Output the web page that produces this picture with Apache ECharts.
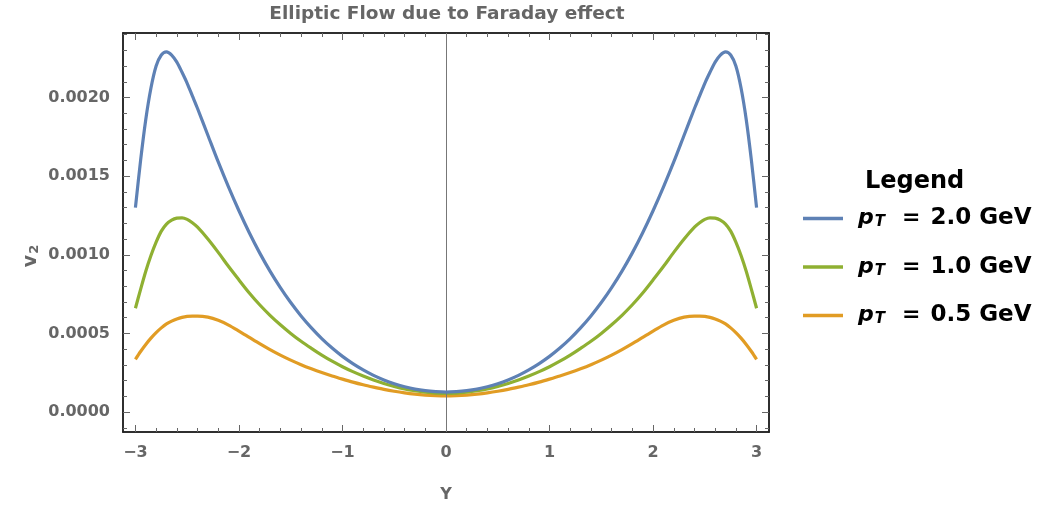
<!DOCTYPE html>
<html>
<head>
<meta charset="utf-8">
<script src="https://cdn.jsdelivr.net/npm/echarts@6/dist/echarts.min.js"></script>
<style>
html,body{margin:0;padding:0;background:#fff;}
#chart{width:1062px;height:508px;}
</style>
</head>
<body>
<div id="chart"></div>
<script>
// ---- data ----
const rapidity = [-3,-2.95,-2.9,-2.85,-2.8,-2.75,-2.7,-2.65,-2.6,-2.55,-2.5,-2.45,
  -2.4,-2.3,-2.2,-2.1,-2,-1.9,-1.8,-1.7,-1.6,-1.5,-1.4,-1.3,-1.2,-1.1,-1,-0.9,-0.8,-0.7,-0.6,-0.5,-0.4,-0.3,-0.2,-0.1,
  0,
  0.1,0.2,0.3,0.4,0.5,0.6,0.7,0.8,0.9,1,1.1,1.2,1.3,1.4,1.5,1.6,1.7,1.8,1.9,2,2.1,2.2,2.3,2.4,
  2.45,2.5,2.55,2.6,2.65,2.7,2.75,2.8,2.85,2.9,2.95,3];

const v2_pT20 = [0.0013,0.0016,0.00186,0.00206,0.00220,0.00227,0.00229,0.00227,0.002225,0.00216,0.00209,0.00201,
  0.00193,0.00176,0.00159,0.00143,0.00128,0.00114,0.001012,0.000896,0.000791,0.000696,0.000611,0.000535,0.000467,0.000407,0.000354,0.000308,0.000268,0.000233,0.000204,0.00018,0.000161,0.000146,0.000136,0.00013,
  0.000127,
  0.00013,0.000136,0.000146,0.000161,0.00018,0.000204,0.000233,0.000268,0.000308,0.000354,0.000407,0.000467,0.000535,0.000611,0.000696,0.000791,0.000896,0.001012,0.00114,0.00128,0.00143,0.00159,0.00176,0.00193,
  0.00201,0.00209,0.00216,0.002225,0.00227,0.00229,0.00227,0.00220,0.00206,0.00186,0.0016,0.0013];

const v2_pT10 = [0.00066,0.00078,0.000895,0.000995,0.00108,0.00115,0.001195,0.00122,0.001233,0.001235,0.001225,0.001203,
  0.001175,0.0011,0.001015,0.000925,0.00084,0.000757,0.000682,0.000615,0.000555,0.0005,0.00045,0.000405,0.000362,0.000323,0.000288,0.000257,0.000229,0.000204,0.000182,0.000163,0.000147,0.000135,0.000126,0.00012,
  0.000118,
  0.00012,0.000126,0.000135,0.000147,0.000163,0.000182,0.000204,0.000229,0.000257,0.000288,0.000323,0.000362,0.000405,0.00045,0.0005,0.000555,0.000615,0.000682,0.000757,0.00084,0.000925,0.001015,0.0011,0.001175,
  0.001203,0.001225,0.001235,0.001233,0.00122,0.001195,0.00115,0.00108,0.000995,0.000895,0.00078,0.00066];

const v2_pT05 = [0.000335,0.000385,0.00043,0.00047,0.000505,0.000535,0.00056,0.000578,0.000592,0.000602,0.000608,0.00061,
  0.00061,0.000603,0.000583,0.000553,0.000515,0.000475,0.000435,0.000397,0.000362,0.00033,0.000301,0.000275,0.000251,0.000229,0.000209,0.00019,0.000173,0.000158,0.000144,0.000132,0.000122,0.000114,0.000108,0.000104,
  0.000102,
  0.000104,0.000108,0.000114,0.000122,0.000132,0.000144,0.000158,0.000173,0.00019,0.000209,0.000229,0.000251,0.000275,0.000301,0.00033,0.000362,0.000397,0.000435,0.000475,0.000515,0.000553,0.000583,0.000603,0.00061,
  0.00061,0.000608,0.000602,0.000592,0.000578,0.00056,0.000535,0.000505,0.00047,0.00043,0.000385,0.000335];

const seriesNames = ['pT20', 'pT10', 'pT05'];
const legendLabels = ['2.0', '1.0', '0.5'];
const xMajorTicks = [-3,-2,-1,0,1,2,3];
const yMajorTicks = [0,0.0005,0.001,0.0015,0.002];
const titleText = 'Elliptic Flow due to Faraday effect';
const xName = 'Y';

// ---- build ----
const xMinorTicks = [];
for (let i = -15; i <= 15; i++) xMinorTicks.push(+(i*0.2).toFixed(2));
const yMinorTicks = [];
for (let i = -1; i <= 24; i++) yMinorTicks.push(+(i*0.0001).toFixed(5));

const X_MIN = -3.12, X_MAX = 3.12, Y_MIN = -0.000127, Y_MAX = 0.002410;
const FONT = 'DejaVu Sans';
const GRAY = '#666666';
const FRAME = '#222222';
const colors = ['#5E81B5', '#8FB032', '#E19C24'];
const values = [v2_pT20, v2_pT10, v2_pT05];

function mkX(pos, major, labels) {
  return {
    type: 'value', position: pos, min: X_MIN, max: X_MAX,
    axisLine: {show: true, onZero: false, lineStyle: {color: FRAME, width: 1.5}},
    axisTick: {show: true, inside: true, length: major ? 7 : 4, customValues: major ? xMajorTicks : xMinorTicks,
      lineStyle: {color: GRAY, width: 1}},
    axisLabel: labels ? {show: true, customValues: xMajorTicks, margin: 13,
      fontFamily: FONT, fontWeight: 'bold', fontSize: 16, color: GRAY,
      formatter: v => String(v).replace('-', '\u2212')} : {show: false},
    splitLine: {show: false}
  };
}
function mkY(pos, major, labels) {
  return {
    type: 'value', position: pos, min: Y_MIN, max: Y_MAX,
    axisLine: {show: true, onZero: false, lineStyle: {color: FRAME, width: 1.5}},
    axisTick: {show: true, inside: true, length: major ? 7 : 4, customValues: major ? yMajorTicks : yMinorTicks,
      lineStyle: {color: GRAY, width: 1}},
    axisLabel: labels ? {show: true, customValues: yMajorTicks, margin: 13,
      fontFamily: FONT, fontWeight: 'bold', fontSize: 16, color: GRAY,
      formatter: v => v.toFixed(4)} : {show: false},
    splitLine: {show: false}
  };
}

const xAxes = [mkX('bottom', true, true), mkX('bottom', false, false), mkX('top', true, false), mkX('top', false, false)];
xAxes[0].name = xName;
xAxes[0].nameLocation = 'middle';
xAxes[0].nameGap = 55;
xAxes[0].nameTextStyle = {fontFamily: FONT, fontWeight: 'bold', fontSize: 16, color: GRAY};

const yAxes = [mkY('left', true, true), mkY('left', false, false), mkY('right', true, false), mkY('right', false, false)];

const series = seriesNames.map((nm, k) => ({
  name: nm, type: 'line', xAxisIndex: 0, yAxisIndex: 0,
  data: rapidity.map((x, i) => [x, values[k][i]]),
  smooth: 0.3, showSymbol: false, symbol: 'none',
  lineStyle: {color: colors[k], width: 3.2}, itemStyle: {color: colors[k]},
  z: 5 - k
}));
series[0].markLine = {
  silent: true, symbol: 'none', animation: false,
  lineStyle: {color: '#777', width: 1, type: 'solid'},
  label: {show: false},
  data: [{xAxis: 0}]
};

const legendMap = {};
seriesNames.forEach((n, i) => legendMap[n] = legendLabels[i]);

const chart = echarts.init(document.getElementById('chart'), null, {renderer: 'canvas'});
chart.setOption({
  animation: false,
  backgroundColor: '#fff',
  title: {
    text: titleText, left: 442, top: 0, textAlign: 'center',
    textStyle: {fontFamily: FONT, fontWeight: 'bold', fontSize: 18.5, color: GRAY}
  },
  graphic: [{
    type: 'text', left: 865, top: 170,
    style: {text: 'Legend', fontFamily: FONT, fontWeight: 'bold', fontSize: 24, fill: '#000'}
  }, {
    type: 'text', x: 31, y: 256, rotation: Math.PI / 2,
    style: {
      text: '{v|v}{s|2}', align: 'center', verticalAlign: 'middle',
      rich: {
        v: {fontFamily: FONT, fontSize: 19, fill: GRAY, fontWeight: 'bold'},
        s: {fontFamily: FONT, fontSize: 13, fill: GRAY, fontWeight: 'bold', padding: [8, 0, 0, 1]}
      }
    }
  }],
  grid: {left: 123, right: 293, top: 33, bottom: 76, containLabel: false, outerBoundsMode: 'none'},
  legend: {
    orient: 'vertical', left: 803, top: 207, itemGap: 25.5, padding: 0,
    icon: 'rect', itemWidth: 40, itemHeight: 3.5,
    data: seriesNames,
    formatter: n => '{p|p}{t|T}{e|=}{r| ' + legendMap[n] + ' GeV}',
    textStyle: {
      rich: {
        p: {fontFamily: FONT, fontWeight: 'bold', fontStyle: 'italic', fontSize: 22, color: '#000', lineHeight: 26, padding: [0, 0, 0, 10]},
        t: {fontFamily: FONT, fontWeight: 'bold', fontStyle: 'italic', fontSize: 15, color: '#000', lineHeight: 18, padding: [8, 0, 0, 1]},
        e: {fontFamily: FONT, fontWeight: 'bold', fontSize: 22, color: '#000', lineHeight: 26, padding: [0, 0, 0, 17]},
        r: {fontFamily: FONT, fontWeight: 'bold', fontSize: 23, color: '#000', lineHeight: 26, padding: [0, 0, 0, 2]}
      }
    }
  },
  xAxis: xAxes,
  yAxis: yAxes,
  series: series
});
</script>
</body>
</html>
